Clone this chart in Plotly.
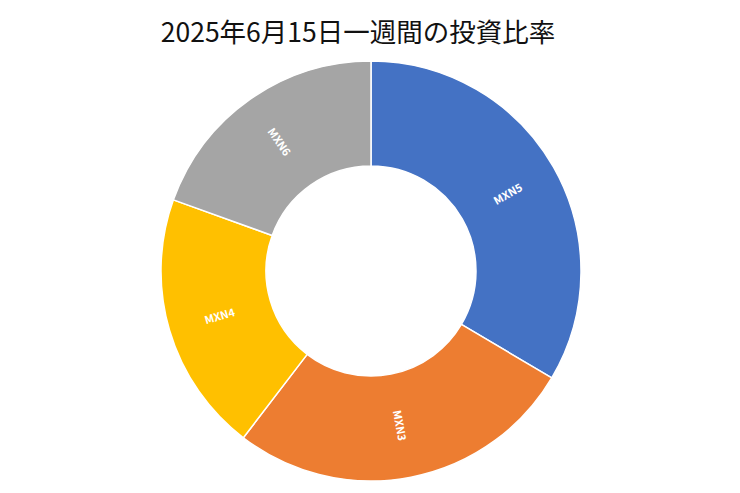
import math

import plotly.graph_objects as go

# Slice data, clockwise from 12 o'clock
labels = ["MXN5", "MXN3", "MXN4", "MXN6"]
values = [33.5, 26.9, 20.1, 19.5]
colors = ["#4472C4", "#ED7D31", "#FFC000", "#A5A5A5"]

title_text = "2025年6月15日一週間の投資比率"

# figure size; the page body adds an 8px offset, so positions are shifted back
W, H = 740, 493
OFF = 8
cx, cy, r = 371 - OFF, 271 - OFF, 210
hole = 0.5

fig = go.Figure(
    go.Pie(
        labels=labels,
        values=values,
        hole=hole,
        sort=False,
        direction="clockwise",
        rotation=0,
        textinfo="none",
        marker=dict(colors=colors, line=dict(color="white", width=1.5)),
        domain=dict(
            x=[(cx - r) / W, (cx + r) / W],
            y=[(H - cy - r) / H, (H - cy + r) / H],
        ),
        showlegend=False,
        hoverinfo="label+value+percent",
    )
)

# radial slice labels, placed at the middle of each ring segment
total = sum(values)
start = 0.0
r_mid = r * (1 + hole) / 2
for lab, val in zip(labels, values):
    theta = 360.0 * (start + val / 2) / total
    start += val
    t = math.radians(theta)
    px = cx + r_mid * math.sin(t)
    py = cy - r_mid * math.cos(t)
    ang = theta - 90
    if ang > 90:
        ang -= 180
    fig.add_annotation(
        text=lab,
        x=px / W,
        y=1 - py / H,
        xref="paper",
        yref="paper",
        xanchor="center",
        yanchor="middle",
        showarrow=False,
        textangle=ang,
        font=dict(family="Noto Sans CJK JP", size=11, color="white", weight="bold"),
    )

fig.update_layout(
    width=W,
    height=H,
    margin=dict(l=0, r=0, t=0, b=0),
    paper_bgcolor="white",
    plot_bgcolor="white",
    title=dict(
        text=title_text,
        x=(358 - OFF) / W,
        xanchor="center",
        y=1 - (33 - OFF) / H,
        yanchor="middle",
        yref="container",
        font=dict(family="Noto Sans CJK JP", size=26.5, color="#111111"),
    ),
)

fig.write_html("out.html")
